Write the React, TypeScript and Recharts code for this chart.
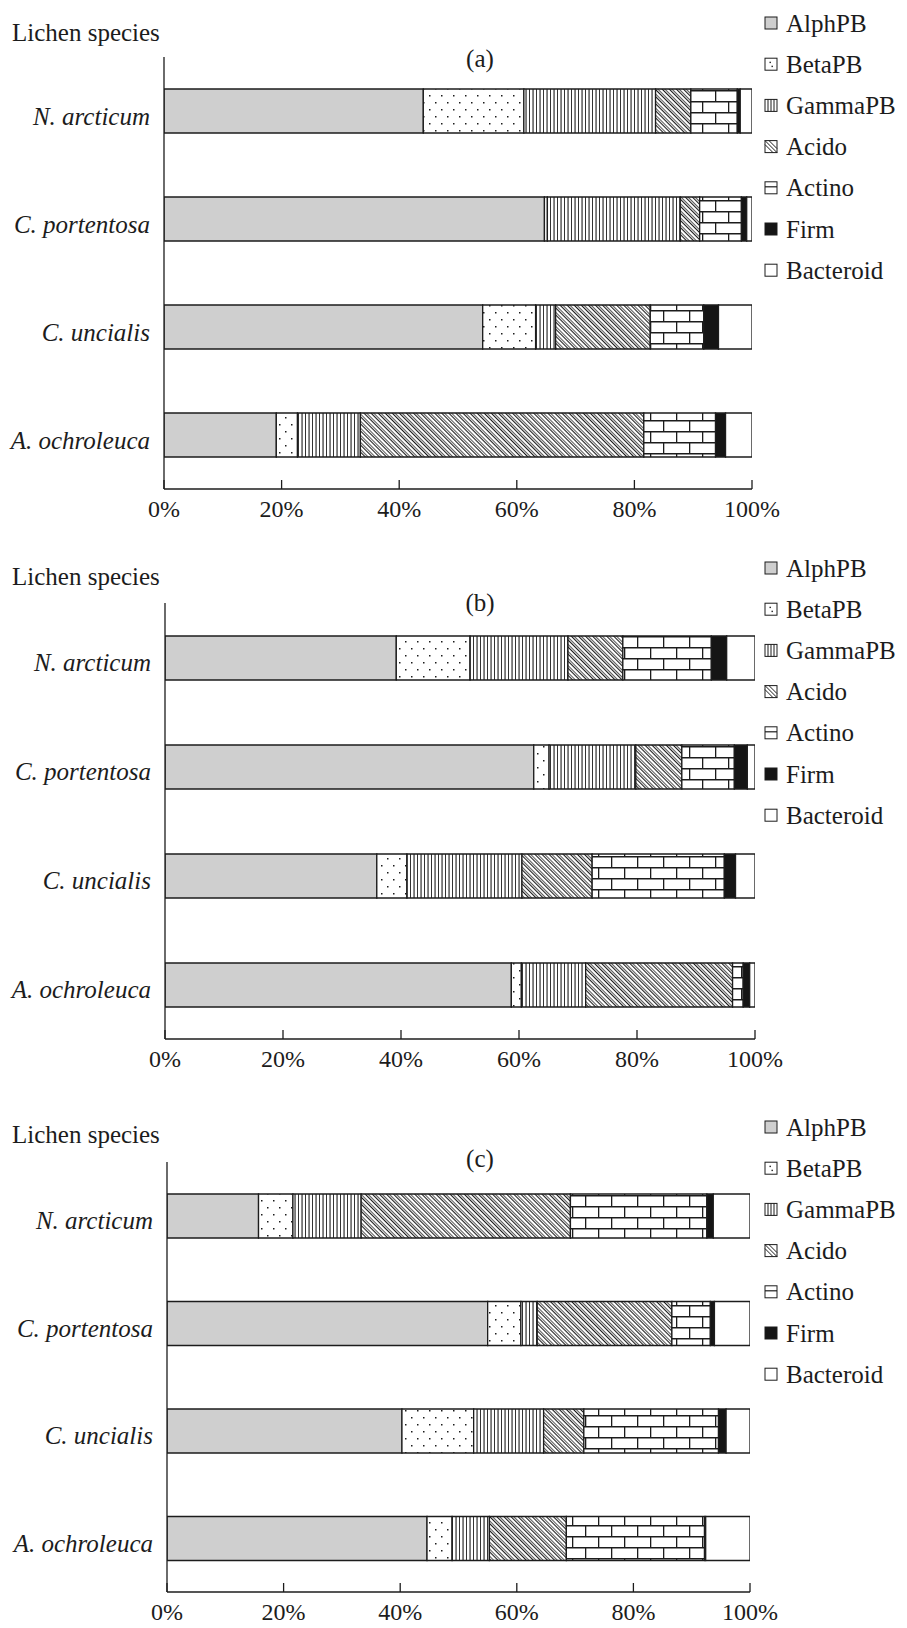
import React from "react";
import { BarChart, Bar, XAxis, YAxis } from "recharts";

const SPECIES = ["N. arcticum", "C. portentosa", "C. uncialis", "A. ochroleuca"];
const GROUPS = ["AlphPB", "BetaPB", "GammaPB", "Acido", "Actino", "Firm", "Bacteroid"];
const TICKS = [0, 20, 40, 60, 80, 100];

// (a) share of each group, per species (same order as SPECIES)
const A_ALPH = [44.1, 64.7, 54.2, 19.1];
const A_BETA = [17.1, 0.5, 9.0, 3.6];
const A_GAMMA = [22.4, 22.6, 3.4, 10.7];
const A_ACIDO = [6.0, 3.3, 16.1, 48.2];
const A_ACTINO = [7.9, 7.1, 9.1, 12.2];
const A_FIRM = [0.5, 0.9, 2.5, 1.7];
const A_BACT = [2.0, 0.9, 5.7, 4.5];

// (b)
const B_ALPH = [39.2, 62.5, 35.9, 58.7];
const B_BETA = [12.5, 2.6, 5.1, 1.7];
const B_GAMMA = [16.6, 14.7, 19.5, 10.9];
const B_ACIDO = [9.3, 7.8, 11.9, 24.9];
const B_ACTINO = [15.0, 8.9, 22.4, 1.8];
const B_FIRM = [2.6, 2.2, 1.9, 1.1];
const B_BACT = [4.8, 1.3, 3.3, 0.9];

// (c)
const C_ALPH = [15.7, 55.0, 40.3, 44.6];
const C_BETA = [5.9, 5.7, 12.3, 4.3];
const C_GAMMA = [11.7, 2.8, 12.0, 6.4];
const C_ACIDO = [35.9, 23.1, 6.9, 13.2];
const C_ACTINO = [23.4, 6.6, 23.1, 23.7];
const C_FIRM = [1.1, 0.7, 1.3, 0.2];
const C_BACT = [6.3, 6.1, 4.1, 7.6];

const INK = "#1c1c1c";
const SERIF = "'Liberation Serif', 'Times New Roman', serif";

const FILLS: Record<string, string> = {
  AlphPB: "#cfcfcf",
  BetaPB: "url(#p-beta)",
  GammaPB: "url(#p-gamma)",
  Acido: "url(#p-acido)",
  Actino: "url(#p-actino)",
  Firm: "#151515",
  Bacteroid: "#ffffff",
};

function rows(cols: number[][]) {
  return SPECIES.map((name, i) => {
    const r: Record<string, any> = { name };
    GROUPS.forEach((g, j) => (r[g] = cols[j][i]));
    return r;
  });
}

const DATA_A = rows([A_ALPH, A_BETA, A_GAMMA, A_ACIDO, A_ACTINO, A_FIRM, A_BACT]);
const DATA_B = rows([B_ALPH, B_BETA, B_GAMMA, B_ACIDO, B_ACTINO, B_FIRM, B_BACT]);
const DATA_C = rows([C_ALPH, C_BETA, C_GAMMA, C_ACIDO, C_ACTINO, C_FIRM, C_BACT]);

// layout of the three panels
const PANELS = [
  { key: "a", data: DATA_A, top: 57, bottom: 489, left: 164, right: 752, header: 32, title: 58, legend: 23 },
  { key: "b", data: DATA_B, top: 603, bottom: 1039, left: 165, right: 755, header: 576, title: 602, legend: 568 },
  { key: "c", data: DATA_C, top: 1162, bottom: 1592, left: 167, right: 750, header: 1134, title: 1158, legend: 1127 },
];

const XTick = (p: any) => {
  const { x, y, payload } = p;
  return (
    <g>
      <line x1={x} x2={x} y1={y} y2={y - 9} stroke={INK} strokeWidth={1.3} />
      <text x={x} y={y + 20} textAnchor="middle" dominantBaseline="central" fontFamily={SERIF} fontSize={24} fill={INK}>
        {payload.value}%
      </text>
    </g>
  );
};

const YTick = (p: any) => {
  const { x, y, payload } = p;
  return (
    <text x={x} y={y + 5} textAnchor="end" dominantBaseline="central" fontFamily={SERIF} fontStyle="italic" fontSize={25} fill={INK}>
      {payload.value}
    </text>
  );
};

function Panel({ data, top, bottom, left, right }: any) {
  const h = bottom - top;
  return (
    <div style={{ position: "absolute", left: 0, top }}>
      <BarChart
        width={907}
        height={h + 40}
        data={data}
        layout="vertical"
        margin={{ top: 0, right: 907 - right, bottom: 0, left: 0 }}
      >
        <XAxis
          type="number"
          domain={[0, 100]}
          ticks={TICKS}
          interval={0}
          allowDataOverflow
          height={40}
          axisLine={{ stroke: INK, strokeWidth: 1.3 }}
          tickLine={false}
          tickSize={0}
          tickMargin={0}
          tick={(p: any) => <XTick {...p} />}
        />
        <YAxis
          type="category"
          dataKey="name"
          width={left}
          interval={0}
          axisLine={{ stroke: INK, strokeWidth: 1.3 }}
          tickLine={false}
          tickSize={0}
          tickMargin={14}
          tick={(p: any) => <YTick {...p} />}
        />
        {GROUPS.map((g) => (
          <Bar key={g} dataKey={g} stackId="s" fill={FILLS[g]} stroke={INK} strokeWidth={1.3} barSize={44} isAnimationActive={false} />
        ))}
      </BarChart>
    </div>
  );
}

function Glyph({ g, x, y }: { g: string; x: number; y: number }) {
  const s = 12;
  const t = y - s / 2;
  const box = (fill: string) => <rect x={x} y={t} width={s} height={s} fill={fill} stroke={INK} strokeWidth={1} />;
  switch (g) {
    case "AlphPB":
      return box("#cfcfcf");
    case "BetaPB":
      return (
        <g>
          {box("#fff")}
          <rect x={x + 4.5} y={t + 3.5} width={1.4} height={1.4} fill={INK} />
          <rect x={x + 6.5} y={t + 7.5} width={1.4} height={1.4} fill={INK} />
        </g>
      );
    case "GammaPB":
      return (
        <g>
          {box("#fff")}
          {[3, 6, 9].map((d) => (
            <line key={d} x1={x + d} x2={x + d} y1={t} y2={t + s} stroke={INK} strokeWidth={1} />
          ))}
        </g>
      );
    case "Acido":
      return (
        <g>
          {box("#fff")}
          <line x1={x} y1={t + 4} x2={x + 8} y2={t + s} stroke={INK} strokeWidth={1} />
          <line x1={x} y1={t} x2={x + s} y2={t + s} stroke={INK} strokeWidth={1} />
          <line x1={x + 4} y1={t} x2={x + s} y2={t + 8} stroke={INK} strokeWidth={1} />
        </g>
      );
    case "Actino":
      return (
        <g>
          {box("#fff")}
          <line x1={x} x2={x + s} y1={t + 5} y2={t + 5} stroke={INK} strokeWidth={1.2} />
        </g>
      );
    case "Firm":
      return box("#151515");
    default:
      return box("#fff");
  }
}

export default function App() {
  return (
    <div style={{ position: "absolute", left: 0, top: 0, width: 907, height: 1628, background: "#fff", overflow: "hidden" }}>
      {PANELS.map((p) => (
        <Panel key={p.key} {...p} />
      ))}
      <svg width={907} height={1628} style={{ position: "absolute", left: 0, top: 0, pointerEvents: "none" }}>
        <defs>
          <pattern id="p-beta" patternUnits="userSpaceOnUse" width={12} height={14}>
            <rect width={12} height={14} fill="#fff" />
            <rect x={3} y={3} width={1.5} height={1.5} fill={INK} />
            <rect x={9} y={10} width={1.5} height={1.5} fill={INK} />
          </pattern>
          <pattern id="p-gamma" patternUnits="userSpaceOnUse" width={7} height={10}>
            <rect width={7} height={10} fill="#fff" />
            <rect x={0.5} y={0} width={1.1} height={10} fill={INK} />
            <rect x={4} y={0} width={0.9} height={10} fill={INK} />
          </pattern>
          <pattern id="p-acido" patternUnits="userSpaceOnUse" width={5} height={10} patternTransform="rotate(-45)">
            <rect width={5} height={10} fill="#fff" />
            <rect x={0} y={0} width={1} height={10} fill={INK} />
            <rect x={1.9} y={0} width={0.8} height={10} fill={INK} />
          </pattern>
          <pattern id="p-actino" patternUnits="userSpaceOnUse" width={26} height={22}>
            <rect width={26} height={22} fill="#fff" />
            <rect x={0} y={0} width={26} height={1.5} fill={INK} />
            <rect x={0} y={11} width={26} height={1.5} fill={INK} />
            <rect x={0} y={0} width={1.3} height={11} fill={INK} />
            <rect x={13} y={11} width={1.3} height={11} fill={INK} />
          </pattern>
        </defs>
        {PANELS.map((p) => (
          <g key={p.key}>
            <text x={12} y={p.header} dominantBaseline="central" fontFamily={SERIF} fontSize={25} fill={INK}>
              Lichen species
            </text>
            <text x={480} y={p.title} textAnchor="middle" dominantBaseline="central" fontFamily={SERIF} fontSize={25} fill={INK}>
              ({p.key})
            </text>
            {GROUPS.map((g, i) => {
              const cy = p.legend + i * 41.2;
              return (
                <g key={g}>
                  <Glyph g={g} x={765} y={cy} />
                  <text x={786} y={cy} dominantBaseline="central" fontFamily={SERIF} fontSize={25} fill={INK}>
                    {g}
                  </text>
                </g>
              );
            })}
          </g>
        ))}
      </svg>
    </div>
  );
}
